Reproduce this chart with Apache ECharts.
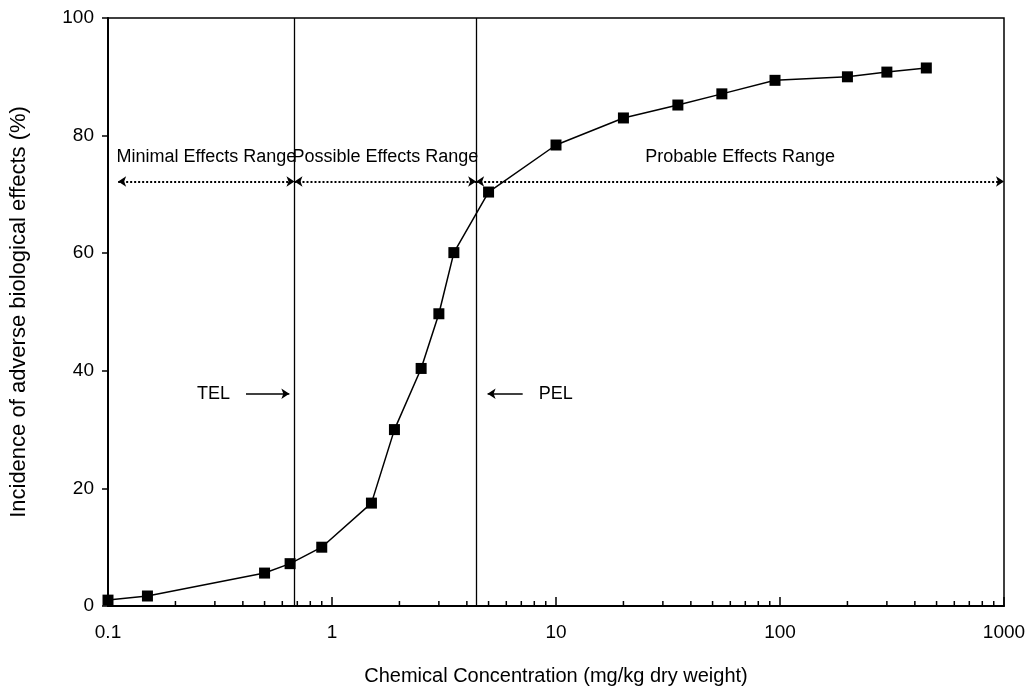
<!DOCTYPE html>
<html>
<head>
<meta charset="utf-8">
<script src="https://cdn.jsdelivr.net/npm/echarts@6/dist/echarts.min.js"></script>
<style>
  html, body { margin: 0; padding: 0; background: #fff; }
  #chart { width: 1029px; height: 687px; }
</style>
</head>
<body>
<div id="chart"></div>
<script>
// Concentration (mg/kg dry weight) and matching incidence of adverse effects (%)
const concentration = [0.1, 0.15, 0.5, 0.65, 0.9, 1.5, 1.9, 2.5, 3, 3.5, 5, 10, 20, 35, 55, 95, 200, 300, 450];
const incidence = [1.0, 1.7, 5.6, 7.2, 10.0, 17.5, 30.0, 40.4, 49.7, 60.1, 70.4, 78.4, 83.0, 85.2, 87.1, 89.4, 90.0, 90.8, 91.5];

// Guideline levels
const TEL = 0.68;
const PEL = 4.4;

// Effect ranges: [label, from, to]
const rangeNames = ['Minimal Effects Range', 'Possible Effects Range', 'Probable Effects Range'];
const rangeBounds = [[0.111, TEL], [TEL, PEL], [PEL, 1000]];
const rangeLevel = 72.2;

// Pointer arrows next to the guideline lines: [label, from, to]
const pointerNames = ['TEL', 'PEL'];
const pointerBounds = [[0.413, 0.645], [7.1, 4.95]];
const pointerLevel = 36.1;

// Minor ticks of the log axis (2..9 in each decade)
const xMinorTicks = [];
[0.1, 1, 10, 100].forEach(d => { for (let k = 2; k <= 9; k++) xMinorTicks.push(+(d * k).toPrecision(3)); });

const FONT = 'Liberation Sans';

const chart = echarts.init(document.getElementById('chart'), null, { renderer: 'canvas' });

const rangeLines = rangeNames.map((name, i) => [
  { coord: [rangeBounds[i][0], rangeLevel], name: name },
  { coord: [rangeBounds[i][1], rangeLevel] }
]);
const pointerLines = pointerNames.map((name, i) => [
  { coord: [pointerBounds[i][0], pointerLevel], name: name },
  { coord: [pointerBounds[i][1], pointerLevel] }
]);

chart.setOption({
  animation: false,
  backgroundColor: '#fff',
  textStyle: { fontFamily: FONT, color: '#000' },
  grid: {
    left: 108, right: 25, top: 18, bottom: 81,
    outerBoundsMode: 'none',
    containLabel: false,
    show: true, borderColor: '#000', borderWidth: 1.5, backgroundColor: 'transparent'
  },
  xAxis: {
    type: 'log',
    logBase: 10,
    min: 0.1,
    max: 1000,
    name: 'Chemical Concentration (mg/kg dry weight)',
    nameLocation: 'middle',
    nameGap: 60,
    nameTextStyle: { fontFamily: FONT, fontSize: 20, color: '#000' },
    axisLine: { show: true, lineStyle: { color: '#000', width: 2 } },
    axisTick: { show: true, inside: true, length: 9, lineStyle: { color: '#000', width: 1.5 } },
    minorTick: { show: false },
    splitLine: { show: false },
    axisLabel: {
      fontFamily: FONT, fontSize: 19, color: '#000', margin: 17,
      formatter: v => String(+v.toPrecision(3))
    }
  },
  yAxis: {
    type: 'value',
    min: 0,
    max: 100,
    interval: 20,
    name: 'Incidence of adverse biological effects (%)',
    nameLocation: 'middle',
    nameGap: 78,
    nameTextStyle: { fontFamily: FONT, fontSize: 22, color: '#000' },
    axisLine: { show: true, lineStyle: { color: '#000', width: 2 } },
    axisTick: { show: true, inside: false, length: 6, lineStyle: { color: '#000', width: 1.5 } },
    splitLine: { show: false },
    axisLabel: { fontFamily: FONT, fontSize: 19, color: '#000', margin: 14 }
  },
  series: [
    {
      // Minor log ticks along the bottom axis
      type: 'custom',
      silent: true,
      data: xMinorTicks.map(v => [v, 0]),
      encode: { x: 0, y: 1 },
      clip: false,
      z: 1,
      renderItem: (params, api) => {
        const p = api.coord([api.value(0), 0]);
        return {
          type: 'line',
          shape: { x1: p[0], y1: p[1], x2: p[0], y2: p[1] - 5 },
          style: { stroke: '#000', lineWidth: 1.5 }
        };
      }
    },
    {
      // TEL and PEL guideline lines
      type: 'line',
      data: [],
      silent: true,
      z: 2,
      markLine: {
        silent: true,
        animation: false,
        symbol: ['none', 'none'],
        label: { show: false },
        lineStyle: { color: '#000', width: 1.3, type: 'solid' },
        data: [{ xAxis: TEL }, { xAxis: PEL }]
      }
    },
    {
      // Dotted double arrows for the effect ranges
      type: 'line',
      data: [],
      silent: true,
      z: 2,
      markLine: {
        silent: true,
        animation: false,
        symbol: ['arrow', 'arrow'],
        symbolSize: 8,
        lineStyle: { color: '#000', width: 2, type: [2, 2] },
        label: {
          show: true,
          position: 'insideMiddleTop',
          distance: 15,
          formatter: '{b}',
          fontFamily: FONT, fontSize: 18, color: '#000'
        },
        data: rangeLines
      }
    },
    {
      // Pointers naming the guideline lines
      type: 'line',
      data: [],
      silent: true,
      z: 2,
      markLine: {
        silent: true,
        animation: false,
        symbol: ['none', 'arrow'],
        symbolSize: 8,
        lineStyle: { color: '#000', width: 1.5, type: 'solid' },
        label: {
          show: true,
          position: 'start',
          distance: 16,
          formatter: '{b}',
          fontFamily: FONT, fontSize: 18, color: '#000'
        },
        data: pointerLines
      }
    },
    {
      name: 'Incidence',
      type: 'line',
      data: concentration.map((c, i) => [c, incidence[i]]),
      symbol: 'rect',
      symbolSize: 11,
      showAllSymbol: true,
      clip: false,
      z: 5,
      lineStyle: { color: '#000', width: 1.5 },
      itemStyle: { color: '#000' }
    }
  ]
});
</script>
</body>
</html>
